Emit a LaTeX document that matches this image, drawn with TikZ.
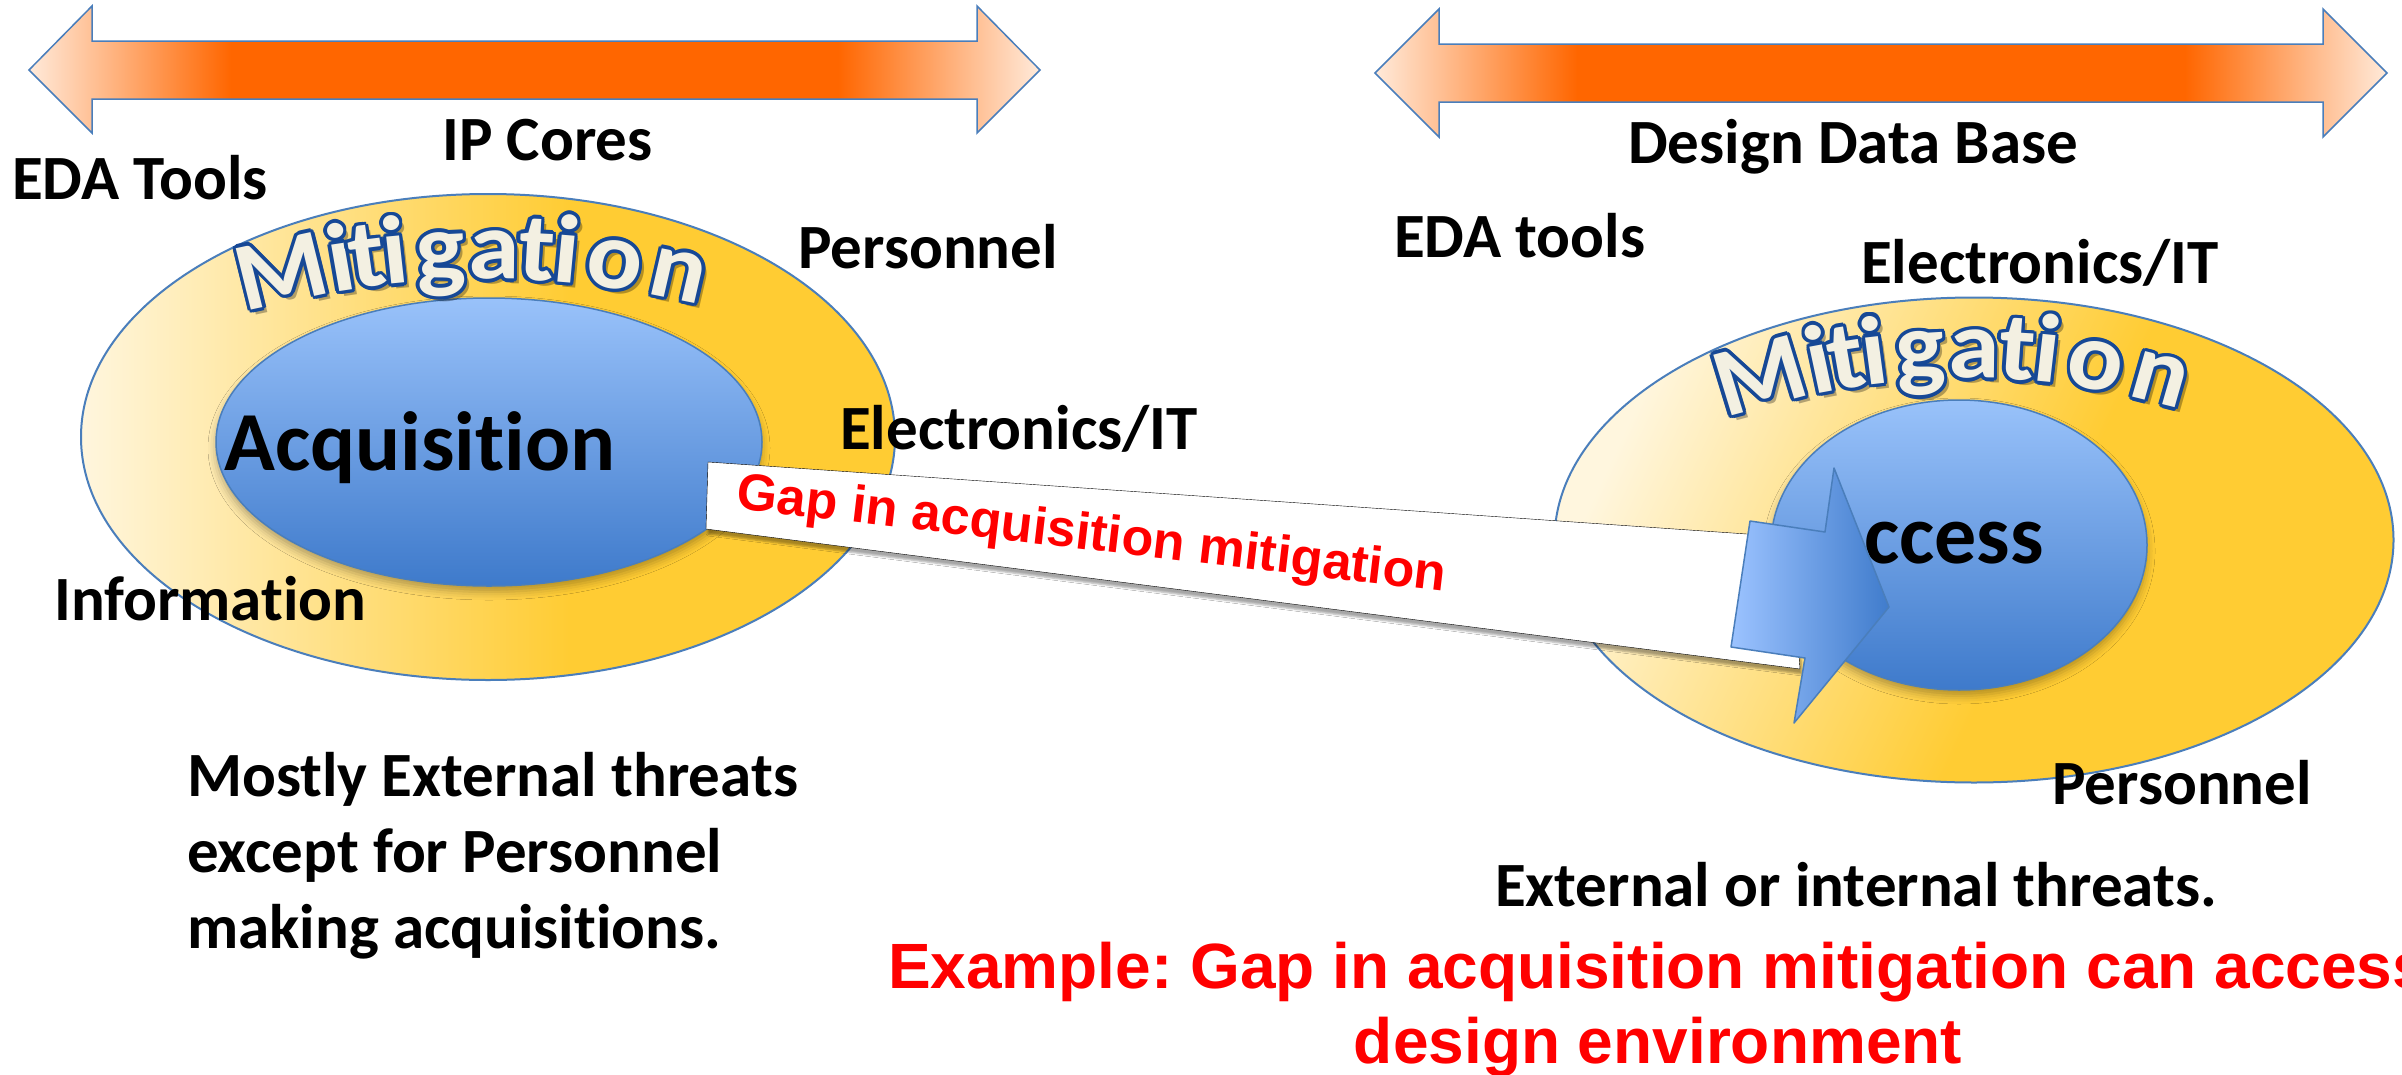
\documentclass[tikz,border=0pt]{standalone}
\usepackage{fontspec}
\setmainfont{Carlito}[Ligatures=NoCommon]
\newfontfamily\arialfont{Liberation Sans}
\usetikzlibrary{shapes.geometric,shadows.blur}
\frenchspacing

\definecolor{barorange}{RGB}{255,102,0}
\definecolor{barpeach}{RGB}{255,234,218}
\definecolor{edgeblue}{RGB}{74,126,187}
\definecolor{goldring}{RGB}{255,204,51}
\definecolor{creamring}{RGB}{255,246,222}
\definecolor{bluetop}{RGB}{153,194,250}
\definecolor{bluebottom}{RGB}{62,122,203}
\definecolor{wordcream}{RGB}{243,240,226}
\definecolor{wordblue}{RGB}{22,72,150}
\definecolor{gapred}{RGB}{255,0,0}
\definecolor{arrowlight}{RGB}{156,195,255}
\definecolor{arrowdark}{RGB}{64,124,204}

\pgfdeclarehorizontalshading{barfade}{100bp}{color(0bp)=(barpeach); color(25bp)=(barpeach); color(35bp)=(barorange); color(65bp)=(barorange); color(75bp)=(barpeach); color(100bp)=(barpeach)}
\pgfdeclarehorizontalshading{ringfade}{100bp}{color(0bp)=(creamring); color(25bp)=(creamring); color(55bp)=(goldring); color(100bp)=(goldring)}

\tikzset{
  bar/.style={draw=edgeblue, line width=1.5pt, shading=barfade},
  ring/.style={ellipse, draw=edgeblue, line width=2pt, shading=ringfade, inner sep=0pt},
  core/.style={ellipse, draw=edgeblue, line width=1.5pt, top color=bluetop, bottom color=bluebottom, inner sep=0pt,
    blur shadow={shadow xshift=0pt, shadow yshift=-6pt, shadow blur radius=8pt, shadow opacity=30}},
  lbl/.style={anchor=base west, inner sep=0pt, font=\fontsize{63}{76}\selectfont\bfseries},
  bigword/.style={anchor=base west, inner sep=0pt, font=\fontsize{84}{84}\selectfont\bfseries},
  mitfill/.style={anchor=base, inner sep=0pt, xscale=1.07, font=\fontsize{97}{97}\selectfont\bfseries, text=wordcream},
  mitedge/.style={mitfill, text=wordblue},
  mitshadow/.style={mitfill, text=black, opacity=.3},
  band/.style={fill=white, blur shadow={shadow xshift=2pt, shadow yshift=-5pt, shadow opacity=35}},
  pointer/.style={draw=edgeblue, line width=1.5pt, left color=arrowlight, right color=arrowdark, line join=round},
  redtext/.style={inner sep=0pt, text=gapred, font=\arialfont\bfseries\fontsize{52}{52}\selectfont},
  examplenote/.style={redtext, anchor=base, font=\arialfont\bfseries\fontsize{64}{75}\selectfont},
}

% curved word: #1 x, #2 baseline y, #3 radius, #4 name
\newcommand{\mitword}[4]{%
  \foreach \ch/\off [count=\k] in {M/-198,i/-141,t/-116,i/-89,g/-45,a/7,t/48,i/77,o/124,n/186}{
    \pgfmathsetmacro{\ang}{asin(\off/#3)}
    \coordinate (#4\k) at ({#1+#3*sin(\ang)},{#2+#3-#3*cos(\ang)});
    \node[mitshadow, rotate=-\ang] (#4s\k) at ([shift={(5,5)}]#4\k) {\ch};
    \foreach \a in {0,30,...,330}
      \node[mitedge, rotate=-\ang] (#4e\k-\a) at ([shift={(\a:3.5)}]#4\k) {\ch};
    \node[mitfill, rotate=-\ang] (#4f\k) at (#4\k) {\ch};
  }
}

\begin{document}
\begin{tikzpicture}[x=1pt, y=-1pt]
  \useasboundingbox (0,0) rectangle (2402,1074);
  \fill[white] (0,0) rectangle (2402,1074);

  % range bars
  \draw[bar] (29,70) -- (92,6) -- (92,41) -- (977,41) -- (977,6) -- (1040,70) -- (977,133) -- (977,99) -- (92,99) -- (92,133) -- cycle;
  \draw[bar] (1375,73) -- (1439,9) -- (1439,44) -- (2323,44) -- (2323,9) -- (2387,73) -- (2323,137) -- (2323,102) -- (1439,102) -- (1439,137) -- cycle;
  \node[lbl] (ipcores) at (442,160) {IP Cores};
  \node[lbl] (designdb) at (1628,163) {Design Data Base};

  % rings
  \node[ring, minimum width=814pt, minimum height=486pt] (acqring) at (488,437) {};
  \node[ring, shading angle=-25, minimum width=839pt, minimum height=485pt] (accring) at (1974,540) {};
  \node[core, minimum width=546pt, minimum height=288pt] (acqcore) at (489,442) {};
  \node[core, minimum width=376pt, minimum height=290pt] (acccore) at (1959,545) {};

  \mitword{487}{279}{880}{ml}
  \mitword{1967}{378}{720}{mr}

  % labels
  \node[lbl] (edaleft) at (12,199) {EDA Tools};
  \node[lbl] (persleft) at (798,268) {Personnel};
  \node[lbl] (elecleft) at (840,449) {Electronics/IT};
  \node[lbl] (infoleft) at (54,620) {Information};
  \node[bigword] (acqword) at (224,470) {Acquisition};
  \node[lbl, align=left] (extleft) at (187,948) {Mostly External threats\\except for Personnel\\making acquisitions.};
  \node[lbl] (edaright) at (1394,257) {EDA tools};
  \node[lbl] (elecright) at (1861,283) {Electronics/IT};
  \node[bigword] (accword) at (1813,563) {Access};
  \node[lbl] (persright) at (2052,804) {Personnel};
  \node[lbl] (extright) at (1495,906) {External or internal threats.};

  % gap band
  \coordinate (gapnw) at (708,462);
  \coordinate (gapne) at (1790,537);
  \coordinate (gapse) at (1800,669);
  \coordinate (gapsw) at (706,529);
  \draw[band] (gapnw) -- (gapne) -- (gapse) -- (gapsw) -- cycle;
  \node[redtext, anchor=base, rotate=-6.7] (gaplabel) at (1090,550) {Gap in acquisition mitigation};
  \draw[pointer] (1750,521) -- (1825,532) -- (1834,468) -- (1889,607) -- (1794,723) -- (1805,658) -- (1731,647) -- cycle;

  \node[examplenote] (example1) at (1658,988) {Example: Gap in acquisition mitigation can access};
  \node[examplenote] (example2) at (1658,1063) {design environment};
\end{tikzpicture}
\end{document}
